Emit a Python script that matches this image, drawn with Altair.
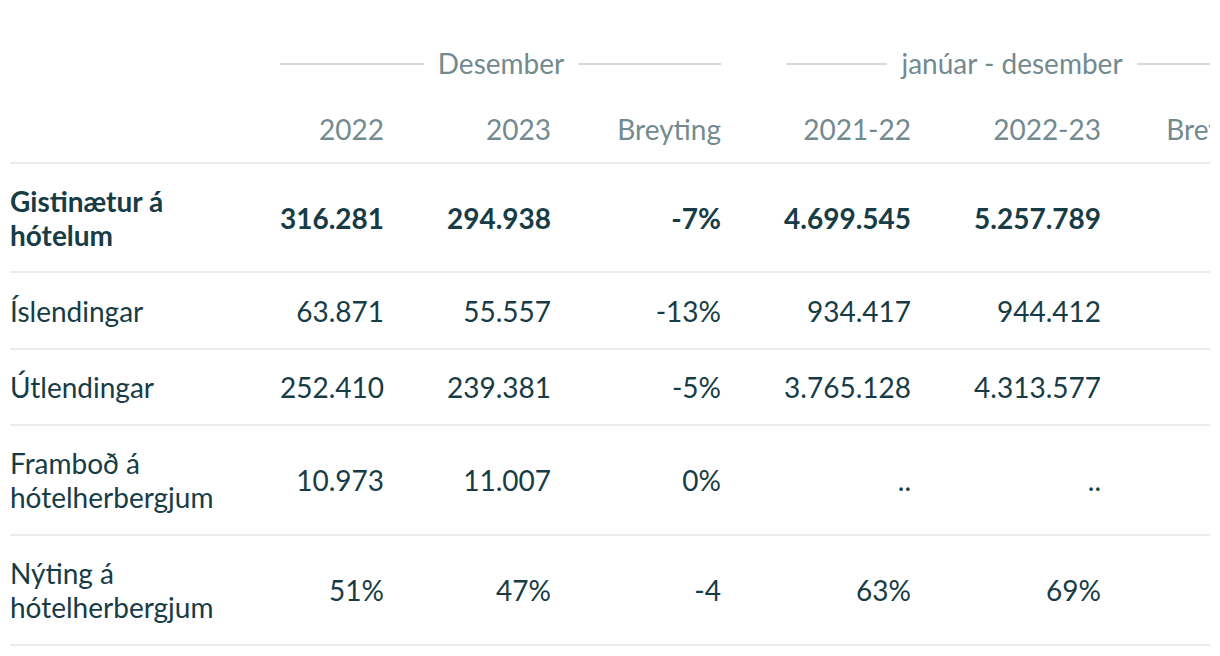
import altair as alt
import pandas as pd

# ---- data ----
row_labels = ["Gistinætur á\nhótelum", "Íslendingar", "Útlendingar",
              "Framboð á\nhótelherbergjum", "Nýting á\nhótelherbergjum"]
dec_2022 = ["316.281", "63.871", "252.410", "10.973", "51%"]
dec_2023 = ["294.938", "55.557", "239.381", "11.007", "47%"]
dec_change = ["-7%", "-13%", "-5%", "0%", "-4"]
ytd_2122 = ["4.699.545", "934.417", "3.765.128", "..", "63%"]
ytd_2223 = ["5.257.789", "944.412", "4.313.577", "..", "69%"]
ytd_change = ["12%", "1%", "15%", "..", "6"]
col_headers = ["2022", "2023", "Breyting", "2021-22", "2022-23", "Breyting"]
group_headers = ["Desember", "janúar - desember"]

series = [dec_2022, dec_2023, dec_change, ytd_2122, ytd_2223, ytd_change]
cells = pd.DataFrame([{"ri": r, "ci": c + 1, "text": series[c][r]}
                      for c in range(len(series)) for r in range(len(row_labels))])
labels = pd.DataFrame({"ri": list(range(len(row_labels))), "text": row_labels})
heads = pd.DataFrame({"ci": list(range(1, len(col_headers) + 1)), "text": col_headers})
groups = pd.DataFrame({"gi": [0, 1], "text": group_headers})
lines = pd.DataFrame({"ri": list(range(len(row_labels)))})

# ---- styling ----
FONT = "Lato"
DARK = "#173c46"
GREY = "#738a90"
FS = 28
LH = 34
X_COLS = alt.Scale(domain=[1, 2, 3, 4, 5, 6], range=[374, 541, 711, 901, 1091, 1260], nice=False, zero=False)
Y_ROWS = alt.Scale(domain=[0, 1, 2, 3, 4], range=[213, 306, 382, 475, 585], nice=False, zero=False)
Y_LINES = alt.Scale(domain=[0, 1, 2, 3, 4], range=[264, 341, 417, 527, 637], nice=False, zero=False)
X_GROUPS = alt.Scale(domain=[0, 1], range=[491, 1002], nice=False, zero=False)

MULTI = "indexof(datum.text, '\\n') >= 0"
SINGLE = "indexof(datum.text, '\\n') < 0"


def cell_layer(cond, weight):
    return alt.Chart(cells).transform_filter(cond).mark_text(
        align="right", baseline="middle", font=FONT, fontSize=FS, fontWeight=weight,
        color=DARK, clip=True
    ).encode(
        x=alt.X("ci:Q", scale=X_COLS, axis=None),
        y=alt.Y("ri:Q", scale=Y_ROWS, axis=None),
        text="text:N",
    )


def label_layer(cond, weight, dy):
    return alt.Chart(labels).transform_filter(cond).mark_text(
        align="left", baseline="middle", font=FONT, fontSize=FS, fontWeight=weight,
        color=DARK, lineBreak="\n", lineHeight=LH, dy=dy
    ).encode(
        x=alt.value(0),
        y=alt.Y("ri:Q", scale=Y_ROWS, axis=None),
        text="text:N",
    )


cell_norm = cell_layer("datum.ri > 0", "normal")
cell_bold = cell_layer("datum.ri == 0", "bold")
lab_bold = label_layer("datum.ri == 0", "bold", -LH / 2)
lab_multi = label_layer(f"datum.ri > 0 && {MULTI}", "normal", -LH / 2)
lab_single = label_layer(f"datum.ri > 0 && {SINGLE}", "normal", 0)

head_text = alt.Chart(heads).mark_text(
    align="right", baseline="middle", font=FONT, fontSize=FS, color=GREY, clip=True
).encode(
    x=alt.X("ci:Q", scale=X_COLS, axis=None),
    y=alt.value(124),
    text="text:N",
)

group_text = alt.Chart(groups).mark_text(
    align="center", baseline="middle", font=FONT, fontSize=FS, color=GREY, clip=True
).encode(
    x=alt.X("gi:Q", scale=X_GROUPS, axis=None),
    y=alt.value(58),
    text="text:N",
)

row_lines = alt.Chart(lines).mark_rule(color="#ececec", strokeWidth=2).encode(
    x=alt.value(0), x2=alt.value(1200),
    y=alt.Y("ri:Q", scale=Y_LINES, axis=None),
)
head_line = alt.Chart(groups).transform_filter("datum.gi == 0").mark_rule(
    color="#ececec", strokeWidth=2
).encode(
    x=alt.value(0), x2=alt.value(1200), y=alt.value(155),
)

GL = "#c9cecf"
g_lines = [
    alt.Chart(groups).transform_filter("datum.gi == 0").mark_rule(color=GL, strokeWidth=1.5).encode(
        x=alt.value(a), x2=alt.value(b), y=alt.value(56))
    for a, b in [(270, 414), (568, 711), (776, 877), (1127, 1200)]
]

chart = alt.layer(
    row_lines, head_line, *g_lines, group_text, head_text,
    lab_single, lab_multi, lab_bold, cell_norm, cell_bold
).resolve_scale(x="independent", y="independent").properties(
    width=1200, height=640,
    padding={"left": 2, "top": 0, "right": 0, "bottom": 0},
    autosize=alt.AutoSizeParams(type="none"),
    background="white",
).configure_view(stroke=None)

chart.save("out.html", embed_options={"renderer": "svg", "actions": False})
